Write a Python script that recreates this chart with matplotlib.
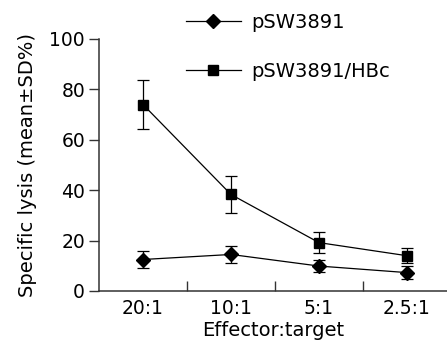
import numpy as np
import matplotlib.pyplot as plt
from matplotlib.lines import Line2D

# Data
ratios = ["20:1", "10:1", "5:1", "2.5:1"]
psw = [12.5, 14.5, 9.9, 7.3]
psw_sd = [3.3, 3.5, 2.5, 2.6]
hbc = [74.0, 38.3, 19.2, 14.0]
hbc_sd = [9.9, 7.5, 4.3, 2.9]

x = np.arange(len(ratios)) + 0.5

fig = plt.figure(figsize=(4.47, 3.45), dpi=100)
ax = fig.add_axes([99/447, 54/345, 348/447, 252/345])

ax.errorbar(x, psw, yerr=psw_sd, color="black", lw=0.9, marker="D", ms=7.5,
            capsize=4, elinewidth=0.9, capthick=0.9)
ax.errorbar(x, hbc, yerr=hbc_sd, color="black", lw=0.9, marker="s", ms=7,
            capsize=4, elinewidth=0.9, capthick=0.9)

ax.set_xlim(0, 3.955)
ax.set_ylim(0, 100)
ax.set_yticks([0, 20, 40, 60, 80, 100])
ax.set_xticks([1, 2, 3])
ax.set_xticklabels([])
ax.set_xticks(x, minor=True)
ax.set_xticklabels(ratios, minor=True)
ax.tick_params(axis="x", which="major", direction="in", length=7, width=1, color="#333333")
ax.tick_params(axis="x", which="minor", length=0, labelsize=13.5, pad=6)
ax.tick_params(axis="y", direction="out", length=7, width=1, color="#333333",
               labelsize=13.5, pad=3)
for s in ["top", "right"]:
    ax.spines[s].set_visible(False)
for s in ["left", "bottom"]:
    ax.spines[s].set_color("#333333")
    ax.spines[s].set_linewidth(1.1)

ax.set_xlabel("Effector:target", fontsize=14, labelpad=2)
ax.set_ylabel("Specific lysis (mean±SD%)", fontsize=14, labelpad=9)

h = [Line2D([], [], color="black", lw=0.9, marker="D", ms=7.5),
     Line2D([], [], color="black", lw=0.9, marker="s", ms=7)]
l = ["pSW3891", "pSW3891/HBc"]
leg = fig.legend(h, l, loc="upper left", bbox_to_anchor=(168/447, 1.013), frameon=False,
                 fontsize=14, handlelength=2.85, labelspacing=1.55, handletextpad=0.55)

fig.savefig("out.png", dpi=100)
